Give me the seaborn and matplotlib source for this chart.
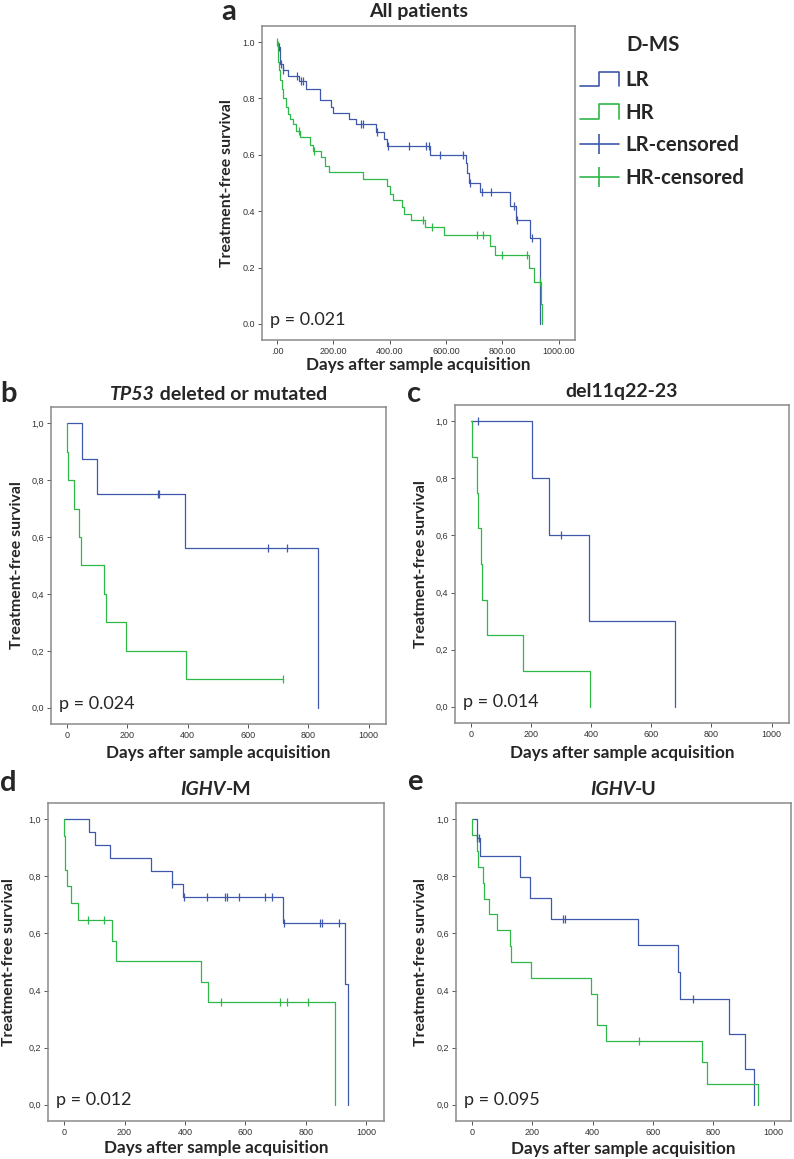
import numpy as np
import matplotlib
matplotlib.use("Agg")
import matplotlib.pyplot as plt
import matplotlib.transforms as mtrans
import seaborn as sns
from matplotlib.lines import Line2D
from matplotlib.legend_handler import HandlerBase
from matplotlib.offsetbox import TextArea, HPacker, AnchoredOffsetbox

# Kaplan-Meier steps (time in days, survival fraction)
# a - All patients
a_lr_t = [0, 4, 10, 21, 39, 80, 102, 152, 193, 198, 255, 281, 352, 379, 389, 544, 670, 676, 682, 721, 829, 847, 900, 934]
a_lr_s = [1.0, 0.982, 0.923, 0.902, 0.88, 0.861, 0.835, 0.795, 0.77, 0.748, 0.728, 0.708, 0.68, 0.657, 0.631, 0.60, 0.57, 0.535, 0.50, 0.467, 0.42, 0.367, 0.304, 0.0]
a_lr_c = [7, 13, 22, 71, 87, 92, 299, 305, 355, 393, 470, 528, 538, 578, 662, 685, 727, 759, 841, 851, 906]
a_hr_t = [0, 3, 7, 12, 17, 21, 33, 40, 47, 57, 66, 83, 118, 127, 157, 172, 186, 304, 391, 401, 411, 444, 452, 476, 526, 594, 755, 774, 894, 912, 936, 942]
a_hr_s = [1.0, 0.93, 0.90, 0.864, 0.834, 0.80, 0.77, 0.745, 0.728, 0.708, 0.684, 0.663, 0.636, 0.613, 0.592, 0.562, 0.538, 0.515, 0.49, 0.46, 0.438, 0.414, 0.39, 0.367, 0.343, 0.314, 0.275, 0.243, 0.20, 0.148, 0.071, 0.0]
a_hr_c = [0, 77, 133, 519, 549, 711, 732, 800, 888, 933]

# b - TP53 deleted or mutated
b_lr_t = [0, 50, 100, 393, 834]
b_lr_s = [1.0, 0.875, 0.75, 0.5625, 0.0]
b_lr_c = [303, 306, 666, 731]
b_hr_t = [0, 1, 2, 22, 39, 45, 124, 128, 195, 394, 718]
b_hr_s = [1.0, 0.9, 0.8, 0.7, 0.6, 0.5, 0.4, 0.3, 0.2, 0.1, 0.1]
b_hr_c = [718]

# c - del11q22-23
c_lr_t = [0, 202, 260, 392, 680]
c_lr_s = [1.0, 0.8, 0.6, 0.3, 0.0]
c_lr_c = [25, 301]
c_hr_t = [0, 2, 20, 22, 35, 38, 55, 173, 395]
c_hr_s = [1.0, 0.875, 0.75, 0.625, 0.5, 0.375, 0.25, 0.125, 0.0]
c_hr_c = []

# d - IGHV-M
d_lr_t = [0, 83, 102, 152, 287, 357, 392, 724, 930, 939]
d_lr_s = [1.0, 0.955, 0.909, 0.864, 0.818, 0.773, 0.727, 0.636, 0.424, 0.0]
d_lr_c = [358, 396, 472, 533, 539, 580, 665, 688, 727, 845, 854, 909]
d_hr_t = [0, 1, 2, 9, 24, 45, 160, 171, 453, 475, 897]
d_hr_s = [1.0, 0.94, 0.824, 0.765, 0.706, 0.647, 0.575, 0.503, 0.431, 0.359, 0.0]
d_hr_c = [80, 133, 519, 715, 736, 807]

# e - IGHV-U
e_lr_t = [0, 17, 25, 158, 192, 261, 549, 684, 690, 854, 906, 936]
e_lr_s = [1.0, 0.935, 0.87, 0.797, 0.725, 0.652, 0.558, 0.465, 0.372, 0.248, 0.124, 0.0]
e_lr_c = [18, 24, 302, 308, 732]
e_hr_t = [0, 1, 18, 20, 37, 39, 56, 83, 125, 131, 195, 396, 413, 414, 443, 762, 781, 948]
e_hr_s = [1.0, 0.944, 0.889, 0.833, 0.778, 0.722, 0.667, 0.611, 0.556, 0.5, 0.444, 0.389, 0.333, 0.278, 0.222, 0.148, 0.074, 0.0]
e_hr_c = [555]

p_values = ["p = 0.021", "p = 0.024", "p = 0.014", "p = 0.012", "p = 0.095"]
x_ticks = [0, 200, 400, 600, 800, 1000]
y_ticks = [0.0, 0.2, 0.4, 0.6, 0.8, 1.0]

LR_COL = "#3E58AC"
HR_COL = "#2EB848"

sns.set_style("white")
plt.rcParams["font.family"] = ["Lato", "DejaVu Sans"]

W, H = 794, 1159
fig = plt.figure(figsize=(W / 100, H / 100), dpi=100)


def px_axes(l, t, r, b):
    return fig.add_axes([l / W, 1 - b / H, (r - l) / W, (b - t) / H])


def step_at(ts, ss, c):
    i = np.searchsorted(ts, c, side="right") - 1
    return np.array(ss)[i]


def km(ax, t, s, cens, col):
    sns.lineplot(x=t, y=s, drawstyle="steps-post", color=col, lw=0.9,
                 estimator=None, ax=ax)
    if len(cens):
        cy = [step_at(t, s, c) for c in cens]
        sns.scatterplot(x=cens, y=cy, marker="|", s=40, color=col,
                        linewidth=0.9, ax=ax, zorder=3)


def style(ax, decimal, ylab_x, xlab_y):
    ax.set_xlim(-53, 1058)
    ax.set_ylim(-0.057, 1.057)
    ax.set_xticks(x_ticks)
    ax.set_yticks(y_ticks)
    if decimal == ".":
        ax.set_xticklabels([".00"] + [f"{v}.00" for v in x_ticks[1:]])
        ax.set_yticklabels([f"{v:.1f}" for v in y_ticks])
    else:
        ax.set_xticklabels([str(v) for v in x_ticks])
        ax.set_yticklabels([f"{v:.1f}".replace(".", ",") for v in y_ticks])
    for sp in ax.spines.values():
        sp.set_visible(True)
        sp.set_color("#8a8a8a")
        sp.set_linewidth(1.1)
    ax.tick_params(direction="out", length=3, width=0.7, color="#555555",
                   labelsize=6.5, labelcolor="#333333", pad=2, bottom=True, left=True)
    for lab in ax.get_xticklabels() + ax.get_yticklabels():
        lab.set_family("Liberation Sans")
    ax.set_xlabel("Days after sample acquisition", fontsize=12.3, fontweight="bold")
    ax.set_ylabel("Treatment-free survival", fontsize=11.4, fontweight="bold")
    ax.xaxis.set_label_coords(0.5, xlab_y)
    ax.yaxis.set_label_coords(ylab_x, 0.5)
    ax.xaxis.label.set_va("center")
    ax.yaxis.label.set_va("center")


def title(ax, parts, y):
    kids = [TextArea(txt, textprops=dict(fontsize=14, fontweight="bold",
                                         fontstyle="italic" if it else "normal"))
            for txt, it in parts]
    box = HPacker(children=kids, align="baseline", pad=0, sep=0)
    anch = AnchoredOffsetbox(loc="center", child=box, frameon=False, pad=0, borderpad=0,
                             bbox_to_anchor=(0.5, y), bbox_transform=ax.transAxes)
    ax.add_artist(anch)


panels = [
    dict(box=(262, 26, 575, 340), lr=(a_lr_t, a_lr_s, a_lr_c), hr=(a_hr_t, a_hr_s, a_hr_c),
         dec=".", ylx=-0.112, xly=-0.08, title=[("All patients", False)], ty=1.045,
         letter="a", lpos=(221, 20)),
    dict(box=(51, 407, 386, 724), lr=(b_lr_t, b_lr_s, b_lr_c), hr=(b_hr_t, b_hr_s, b_hr_c),
         dec=",", ylx=-0.101, xly=-0.092, title=[("TP53", True), (" deleted or mutated", False)],
         ty=1.041, letter="b", lpos=(0, 402)),
    dict(box=(455, 405, 789, 723), lr=(c_lr_t, c_lr_s, c_lr_c), hr=(c_hr_t, c_hr_s, c_hr_c),
         dec=",", ylx=-0.102, xly=-0.094, title=[("del11q22-23", False)], ty=1.041,
         letter="c", lpos=(407, 402)),
    dict(box=(48, 803, 384, 1121), lr=(d_lr_t, d_lr_s, d_lr_c), hr=(d_hr_t, d_hr_s, d_hr_c),
         dec=",", ylx=-0.116, xly=-0.085, title=[("IGHV", True), ("-M", False)], ty=1.044,
         letter="d", lpos=(0, 791)),
    dict(box=(456, 803, 791, 1121), lr=(e_lr_t, e_lr_s, e_lr_c), hr=(e_hr_t, e_hr_s, e_hr_c),
         dec=",", ylx=-0.104, xly=-0.088, title=[("IGHV", True), ("-U", False)], ty=1.044,
         letter="e", lpos=(407, 790)),
]

for i, p in enumerate(panels):
    ax = px_axes(*p["box"])
    km(ax, *p["lr"], LR_COL)
    km(ax, *p["hr"], HR_COL)
    style(ax, p["dec"], p["ylx"], p["xly"])
    title(ax, p["title"], p["ty"])
    ax.text(0.025, 0.015, p_values[i],
            transform=mtrans.blended_transform_factory(ax.transAxes, ax.transData),
            fontsize=13, va="center", ha="left")
    lx, ly = p["lpos"]
    fig.text(lx / W, 1 - ly / H, p["letter"], fontsize=21, fontweight="bold",
             ha="left", va="baseline")


# legend with step-shaped handles like SPSS
class StepHandler(HandlerBase):
    def create_artists(self, legend, orig_handle, xdescent, ydescent, width, height,
                       fontsize, trans):
        x0, y0 = -xdescent, -ydescent
        xs = [x0, x0 + 0.5 * width, x0 + 0.5 * width, x0 + width, x0 + width]
        ys = [y0, y0, y0 + height, y0 + height, y0]
        return [Line2D(xs, ys, color=orig_handle.get_color(), lw=1.2, transform=trans)]


h_lr = Line2D([], [], color=LR_COL)
h_hr = Line2D([], [], color=HR_COL)
h_lrc = Line2D([], [], color=LR_COL, marker="|", markersize=15, lw=1.2, mew=1.2)
h_hrc = Line2D([], [], color=HR_COL, marker="|", markersize=15, lw=1.2, mew=1.2)
fig.legend([h_lr, h_hr, h_lrc, h_hrc], ["LR", "HR", "LR-censored", "HR-censored"],
           loc="upper left", bbox_to_anchor=(580 / W, 1 - 70 / H), frameon=False,
           borderpad=0, borderaxespad=0, handlelength=1.9, handletextpad=0.3,
           labelspacing=0.62, numpoints=1, prop=dict(family="Lato", weight="bold", size=14.7),
           handler_map={h_lr: StepHandler(), h_hr: StepHandler()})
fig.text(626 / W, 1 - 45 / H, "D-MS", fontsize=14.7, fontweight="bold", ha="left", va="center")

fig.savefig("out.png", dpi=100)
